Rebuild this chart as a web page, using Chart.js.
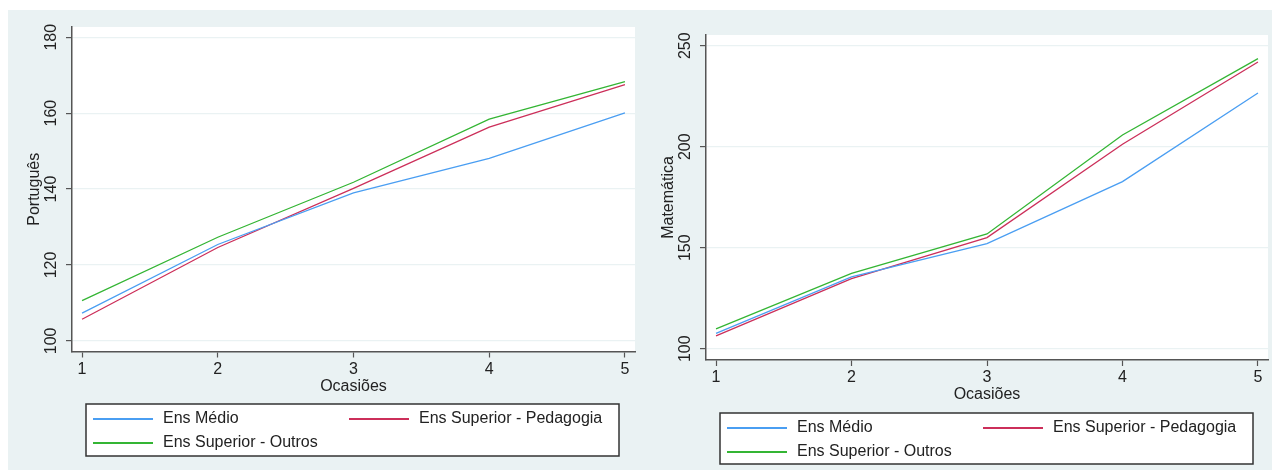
<!DOCTYPE html>
<html>
<head>
<meta charset="utf-8">
<script src="https://cdn.jsdelivr.net/npm/chart.js@4.4.0/dist/chart.umd.min.js"></script>
<style>
  body { margin: 0; background: #ffffff; width: 1272px; height: 470px; overflow: hidden; position: relative; }
  #bg { position: absolute; left: 8px; top: 10px; width: 1264px; height: 460px; background: #eaf2f3; }
  canvas { position: absolute; top: 10px; }
  #c1 { left: 8px; }
  #c2 { left: 636px; }
</style>
</head>
<body>
<div id="bg"></div>
<canvas id="c1" width="628" height="460"></canvas>
<canvas id="c2" width="636" height="460"></canvas>
<script>
// data
const ocasioes = [1, 2, 3, 4, 5];
const seriesNames = ["Ens Médio", "Ens Superior - Pedagogia", "Ens Superior - Outros"];
const seriesColors = ["#4a9ef2", "#cc2f5a", "#34b534"];

const portMedio = [107.3, 125.4, 139.0, 148.1, 160.1];
const portPedagogia = [105.7, 124.6, 140.2, 156.3, 167.5];
const portOutros = [110.6, 127.3, 141.8, 158.4, 168.3];
const portTicks = [100, 120, 140, 160, 180];

const matMedio = [107.6, 135.6, 152.0, 182.7, 226.6];
const matPedagogia = [106.3, 134.7, 155.0, 201.2, 241.9];
const matOutros = [109.8, 137.3, 156.8, 205.8, 243.6];
const matTicks = [100, 150, 200, 250];

const FONT = "'Liberation Sans', Arial, sans-serif";
const TXT = "#222222";
const AXIS = "#555555";

//draws white plot area, rotated y labels, x labels and the boxed legend
const stataPlugin = {
  id: "stata",
  beforeDraw(chart) {
    const a = chart.chartArea;
    const ctx = chart.ctx;
    ctx.save();
    ctx.fillStyle = "#ffffff";
    ctx.fillRect(a.left, a.top, a.right - a.left, a.bottom - a.top);
    ctx.restore();
  },
  afterDraw(chart, args, o) {
    const ctx = chart.ctx;
    const a = chart.chartArea;
    const xs = chart.scales.x, ys = chart.scales.y;
    ctx.save();
    ctx.fillStyle = TXT;
    ctx.font = "16px " + FONT;
    ctx.textAlign = "center";
    ctx.textBaseline = "middle";
    // y tick labels, rotated like stata
    o.yTicks.forEach((v) => {
      const y = ys.getPixelForValue(v);
      ctx.save();
      ctx.translate(a.left - 20, y);
      ctx.rotate(-Math.PI / 2);
      ctx.fillText(String(v), 0, 0);
      ctx.restore();
    });
    // y title
    ctx.save();
    ctx.translate(a.left - 37, (a.top + a.bottom) / 2);
    ctx.rotate(-Math.PI / 2);
    ctx.fillText(o.yTitle, 0, 0);
    ctx.restore();
    // x tick labels + title
    ocasioes.forEach((v) => {
      ctx.fillText(String(v), xs.getPixelForValue(v), a.bottom + 18);
    });
    ctx.fillText("Ocasiões", (xs.getPixelForValue(1) + xs.getPixelForValue(5)) / 2, a.bottom + 35);

    // legend
    const b = o.legend;
    ctx.fillStyle = "#ffffff";
    ctx.fillRect(b.x, b.y, b.w, b.h);
    ctx.strokeStyle = "#333333";
    ctx.lineWidth = 1.5;
    ctx.strokeRect(b.x, b.y, b.w, b.h);
    ctx.font = "16px " + FONT;
    ctx.textAlign = "left";
    const pos = [[0, 0], [1, 0], [0, 1]];
    chart.data.datasets.forEach((ds, i) => {
      const cx = b.x + (pos[i][0] ? 263 : 7);
      const cy = b.y + (pos[i][1] ? 39 : 15);
      ctx.strokeStyle = ds.borderColor;
      ctx.lineWidth = 2;
      ctx.beginPath();
      ctx.moveTo(cx, cy);
      ctx.lineTo(cx + 60, cy);
      ctx.stroke();
      ctx.fillStyle = TXT;
      ctx.fillText(ds.label, cx + 70, cy);
    });
    ctx.restore();
  },
};

function makeChart(id, values, yTicks, yMin, yMax, yTitle, area, legend) {
  const canvas = document.getElementById(id);
  const W = canvas.width, H = canvas.height;
  const yW = 8, xH = 8;
  return new Chart(canvas, {
    type: "line",
    data: {
      datasets: values.map((vals, i) => ({
        label: seriesNames[i],
        data: ocasioes.map((x, j) => ({ x: x, y: vals[j] })),
        borderColor: seriesColors[i],
        borderWidth: 1.3,
        pointRadius: 0,
        tension: 0,
        fill: false,
      })),
    },
    options: {
      responsive: false,
      animation: false,
      layout: {
        padding: { left: area.l - yW, top: area.t, right: W - area.r, bottom: H - area.b - xH },
      },
      plugins: {
        legend: { display: false },
        tooltip: { enabled: false },
        stata: { yTicks: yTicks, yTitle: yTitle, legend: legend },
      },
      scales: {
        x: {
          type: "linear",
          min: 0.926,
          max: 5.074,
          afterBuildTicks: (s) => { s.ticks = ocasioes.map((v) => ({ value: v })); },
          afterFit: (s) => { s.height = xH; },
          ticks: { display: false },
          grid: { drawOnChartArea: false, tickColor: AXIS, tickLength: 6, tickWidth: 1.2 },
          border: { color: AXIS, width: 1.5 },
        },
        y: {
          min: yMin,
          max: yMax,
          afterBuildTicks: (s) => { s.ticks = yTicks.map((v) => ({ value: v })); },
          afterFit: (s) => { s.width = yW; },
          ticks: { display: false },
          grid: { color: "#eaf2f3", lineWidth: 1.2, tickColor: AXIS, tickLength: 6, tickWidth: 1.2 },
          border: { color: AXIS, width: 1.5 },
        },
      },
    },
    plugins: [stataPlugin],
  });
}

window.onload = function () {
  makeChart("c1", [portMedio, portPedagogia, portOutros], portTicks, 97.2, 182.7, "Português",
    { l: 64, t: 17, r: 627, b: 341.5 }, { x: 78, y: 394, w: 533, h: 52 });
  makeChart("c2", [matMedio, matPedagogia, matOutros], matTicks, 94.4, 255.3, "Matemática",
    { l: 70, t: 25, r: 632, b: 350 }, { x: 84, y: 403, w: 533, h: 51 });
};
</script>
</body>
</html>
